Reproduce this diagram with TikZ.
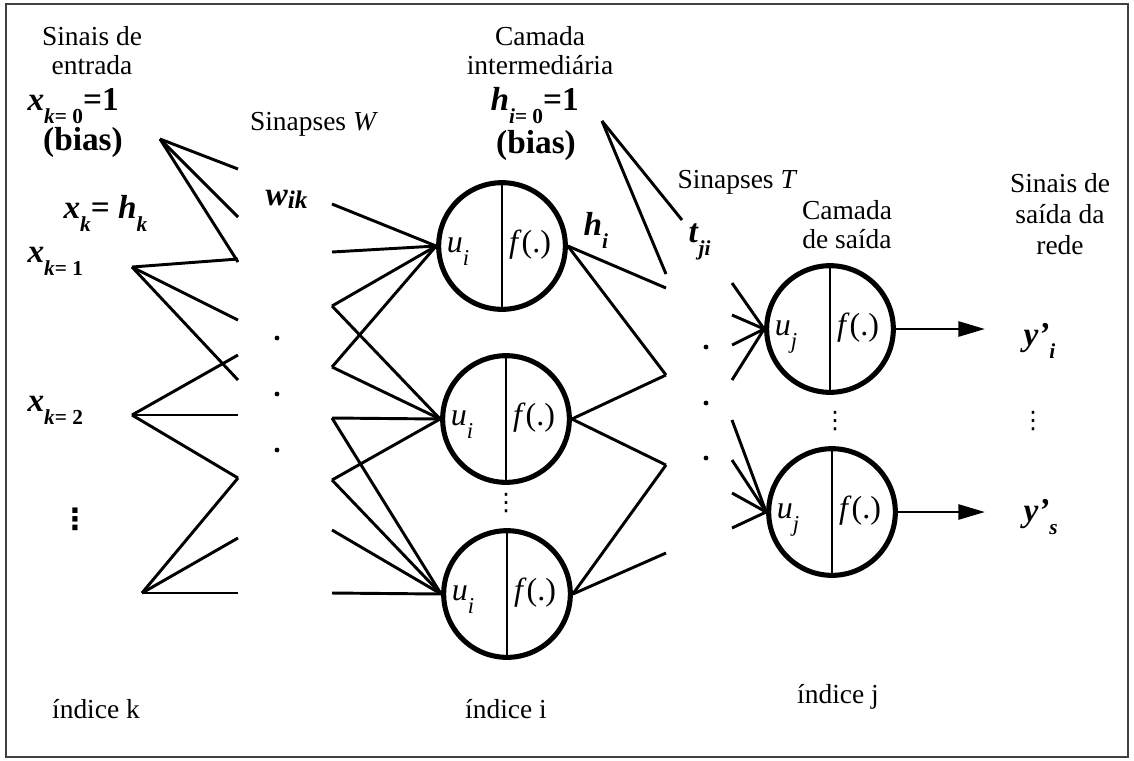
\documentclass[tikz,border=0pt]{standalone}
\usepackage{fontspec}
\setmainfont{Liberation Serif}
\newfontfamily\dotsfont{DejaVu Sans}
\usepackage{tikz}
\usetikzlibrary{
    arrows.meta,
    calc
}

\newcommand{\bsub}[2]{\textbf{\textit{#1}}\raisebox{-0.85ex}{\fontsize{8}{8}\selectfont\bfseries #2}}
\newcommand{\usub}[1]{\textit{u}\raisebox{-0.9ex}{\fontsize{8.5}{8.5}\selectfont\textit{#1}}}
\newcommand{\colondots}{{\dotsfont ⋮}}

\tikzset{
    syn/.style={line width=1.1pt},
    neuron/.style={circle, draw, line width=1.9pt, minimum size=47.5pt, inner sep=0pt},
    divider/.style={line width=0.4pt},
    lbl/.style={font=\fontsize{10.3}{10.9}\selectfont, align=center, inner sep=0pt},
    blbl/.style={font=\fontsize{12.5}{13}\selectfont, inner sep=0pt},
    cell/.style={font=\fontsize{12}{12}\selectfont, inner sep=0pt, anchor=base}
}

\begin{document}
\begin{tikzpicture}[x=0.375pt, y=-0.375pt]

\useasboundingbox (0,0) rectangle (1134,760);

% Frame
\draw[black!75, line width=0.75pt] (6,4) rectangle (1128,757);

% Input signals
\node[lbl] (intitle) at (92,51) {Sinais de\\entrada};
\node[blbl, anchor=base west] (xb-lbl) at (27,110) {\bsub{x}{\textit{k}= 0}\textbf{=1}};
\node[blbl, anchor=base] (xb-bias) at (83,150) {\textbf{(bias)}};
\node[blbl, anchor=base west] (xk-lbl) at (63,218) {\bsub{x}{\textit{k}}\textbf{= }\bsub{h}{\textit{k}}};
\node[blbl, anchor=base west] (x1-lbl) at (27,262) {\bsub{x}{\textit{k}= 1}};
\node[blbl, anchor=base west] (x2-lbl) at (27,411) {\bsub{x}{\textit{k}= 2}};
\node[font=\fontsize{11}{11}\selectfont\bfseries, inner sep=0pt] (xdots) at (75,519) {\colondots};

\coordinate (xb) at (160,139);
\coordinate (x1) at (132,267);
\coordinate (x2) at (132,415);
\coordinate (xn) at (142,593);

% Synapses W
\node[lbl, anchor=base] (wtitle) at (314,130) {Sinapses \textit{W}};
\node[blbl, anchor=base west] (wik) at (265,205) {\textbf{\textit{w}}\raisebox{-0.2ex}{\fontsize{9.5}{9.5}\selectfont\bfseries\itshape ik}};
\foreach \y in {338,394,450}
    \fill (277,\y) circle (0.9pt);

\foreach \s/\y in {xb/169, xb/217, xb/262, x1/259, x1/320, x1/380,
                   x2/355, x2/415, x2/478, xn/478, xn/538, xn/593}
    \draw[syn] (\s) -- (238,\y);

% Hidden layer
\node[lbl] (htitle) at (540,51) {Camada\\intermediária};
\node[blbl, anchor=base west] (hb-lbl) at (490,110) {\bsub{h}{\textit{i}= 0}\textbf{=1}};
\node[blbl, anchor=base] (hb-bias) at (536,153) {\textbf{(bias)}};
\coordinate (hb) at (602,121);

\foreach \n/\x/\y/\s in {h1/502/246/i, h2/506/419/i, h3/507/594/i, o1/830/329/j, o2/832/512/j} {
    \node[neuron] (\n) at (\x,\y) {};
    \draw[divider] (\n.north) -- (\n.south);
    \node[cell] (\n-u) at ($(\n.center)+(-44,6)$) {\usub{\s}};
    \node[cell] (\n-f) at ($(\n.center)+(28,6)$) {\textit{f}(.)};
}
\node[font=\fontsize{9}{9}\selectfont, inner sep=0pt] (hdots) at (506,503) {\colondots};

\foreach \y/\t in {204/h1, 252/h1, 306/h1, 306/h2, 367/h1, 367/h2,
                   418/h2, 418/h3, 480/h2, 480/h3, 530/h3, 593/h3}
    \draw[syn] (332,\y) -- (\t.west);

\node[blbl, anchor=base west] (hi) at (583,235) {\bsub{h}{\textit{i}}};

% Synapses T
\node[lbl, anchor=base west] (ttitle) at (677,188) {Sinapses \textit{T}};
\node[blbl, anchor=base west] (tji) at (688,242) {\bsub{t}{\textit{ji}}};
\foreach \y in {347,403,458}
    \fill (706,\y) circle (0.9pt);

\draw[syn] (hb) -- (682,220);
\draw[syn] (hb) -- (666,274);
\foreach \s/\y in {h1/288, h1/375, h2/375, h2/465, h3/465, h3/553}
    \draw[syn] (\s.east) -- (666,\y);

\foreach \y/\t in {283/o1, 315/o1, 345/o1, 380/o1, 420/o2, 460/o2, 493/o2, 528/o2}
    \draw[syn] (732,\y) -- (\t.west);

% Output layer
\node[lbl] (otitle) at (847,225) {Camada\\de saída};
\node[lbl, font=\fontsize{10.3}{11.6}\selectfont] (ytitle) at (1060,214) {Sinais de\\saída da\\rede};
\node[font=\fontsize{9}{9}\selectfont, inner sep=0pt] (odots) at (835,421) {\colondots};

\coordinate (y1end) at (985,329);
\coordinate (y2end) at (985,512);
\draw[syn, -{Triangle[length=10pt, width=5.6pt]}] (o1.east) -- (y1end);
\draw[syn, -{Triangle[length=10pt, width=5.6pt]}] (o2.east) -- (y2end);

\node[blbl, anchor=base west] (y1) at (1023,345) {\bsub{y’}{\textit{i}}};
\node[blbl, anchor=base west] (y2) at (1023,521) {\bsub{y’}{\textit{s}}};
\node[font=\fontsize{9}{9}\selectfont, inner sep=0pt] (ydots) at (1033,421) {\colondots};

% Indices
\node[lbl, anchor=base] (idxk) at (96,718) {índice k};
\node[lbl, anchor=base] (idxi) at (506,718) {índice i};
\node[lbl, anchor=base] (idxj) at (838,703) {índice j};

\end{tikzpicture}
\end{document}
